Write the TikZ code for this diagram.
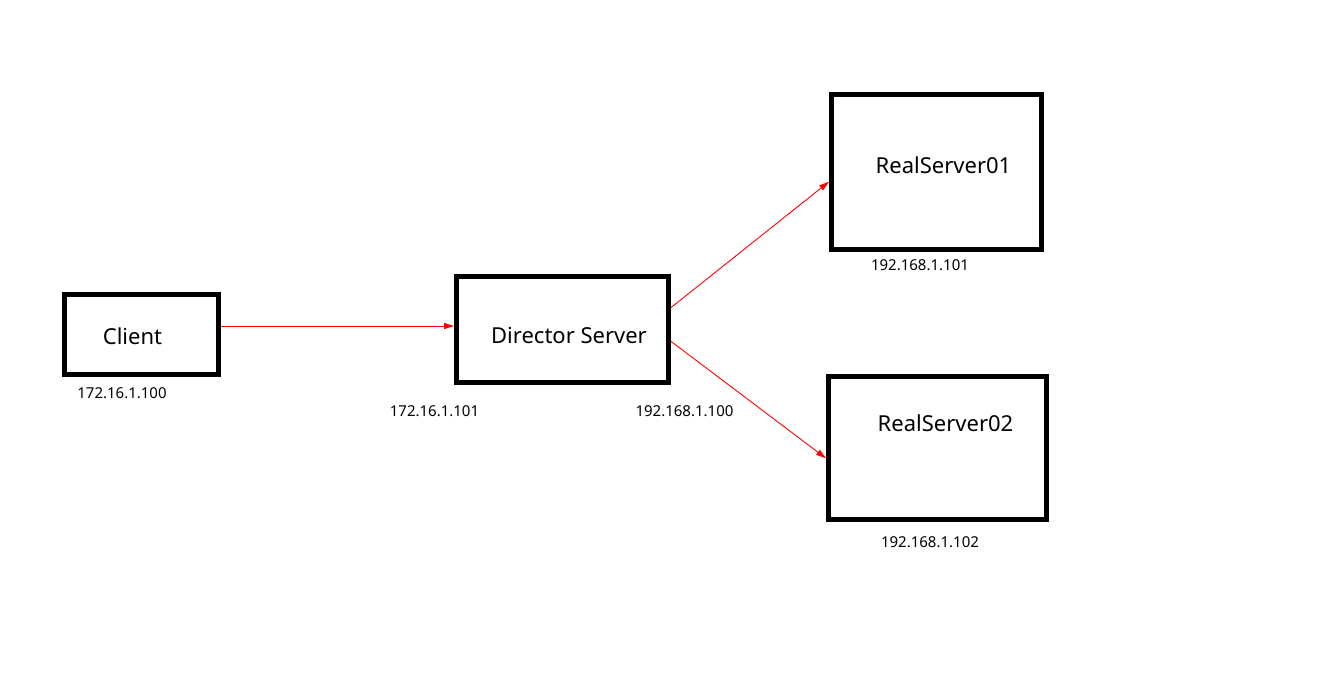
\documentclass[tikz,border=0pt]{standalone}
\usepackage{fontspec}
\setmainfont{Noto Sans}
\usetikzlibrary{arrows.meta,calc}
\begin{document}
\begin{tikzpicture}[x=1pt,y=-1pt,
  box/.style={draw=black,line width=5pt,fill=white,rectangle,inner sep=0pt},
  big/.style={inner sep=0pt,font=\fontsize{22}{26}\selectfont},
  small/.style={inner sep=0pt,font=\fontsize{15}{18}\selectfont},
  arr/.style={draw=red,line width=0.9pt,-{Triangle[length=10pt,width=6pt]}}]
\useasboundingbox[fill=white] (0,0) rectangle (1323,674);
% boxes
\node[box,minimum width=154pt,minimum height=80pt] (client) at (141.5,334.5) {};
\node[box,minimum width=211.5pt,minimum height=106pt] (director) at (562.25,329.5) {};
\node[box,minimum width=209.5pt,minimum height=155pt] (rs1) at (936.25,172) {};
\node[box,minimum width=218pt,minimum height=143pt] (rs2) at (937.5,448) {};
% box texts
\node[big] (tclient) at (132.5,336) {Client};
\node[big] (tdirector) at (569,335.7) {Director Server};
\node[big] (trs1) at (943.5,165) {RealServer01};
\node[big] (trs2) at (945.5,423) {RealServer02};
% address labels
\node[small] (ipc) at (122,392.7) {172.16.1.100};
\node[small] (ipd1) at (434.5,410.7) {172.16.1.101};
\node[small] (ipd2) at (684.5,410.7) {192.168.1.100};
\node[small] (ipr1) at (920,265) {192.168.1.101};
\node[small] (ipr2) at (930,541.7) {192.168.1.102};
% connectors
\draw[arr] ($(client.east)+(0,-8.5)$) -- ($(director.west)+(0,-3.5)$);
\draw[arr] ($(director.east)+(0,-21.5)$) -- ($(rs1.west)+(0,9.7)$);
\draw[arr] ($(director.east)+(0,11.5)$) -- ($(rs2.west)+(0,10.3)$);
\end{tikzpicture}
\end{document}
